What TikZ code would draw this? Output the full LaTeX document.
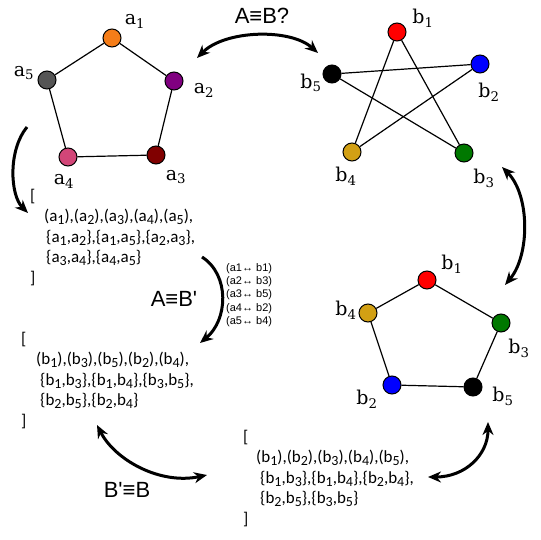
\documentclass[tikz,border=0pt]{standalone}
\usepackage{fontspec}
\setmainfont{Carlito}
\newfontfamily\lblfont{DejaVu Serif}
\newfontfamily\arialfont{Liberation Sans}
\usepackage{tikz}
\usetikzlibrary{arrows.meta}
\definecolor{aorange}{RGB}{245,125,25}
\definecolor{apurple}{RGB}{128,0,128}
\definecolor{adarkred}{RGB}{128,0,0}
\definecolor{apink}{RGB}{210,70,120}
\definecolor{agray}{RGB}{85,85,85}
\definecolor{bred}{RGB}{255,0,0}
\definecolor{bblue}{RGB}{0,0,255}
\definecolor{bgreen}{RGB}{0,120,0}
\definecolor{bgold}{RGB}{210,160,20}
\tikzset{
  vtx/.style={circle, draw=black, line width=1pt, minimum size=18pt, inner sep=0pt},
  edge/.style={line width=1.2pt, black},
  vlbl/.style={font=\lblfont\fontsize{19}{20}\selectfont, inner sep=0pt},
  setlist/.style={anchor=north west, align=left, inner sep=0pt,
                  font=\fontsize{17}{20.5}\selectfont},
  maplist/.style={anchor=north west, align=left, inner sep=0pt,
                  font=\arialfont\fontsize{11}{13.4}\selectfont},
  eqlbl/.style={font=\arialfont\fontsize{22}{24}\selectfont, inner sep=0pt},
  onearrow/.style={-{Stealth[length=13pt,width=11pt]}, line width=3pt},
  twoarrow/.style={{Stealth[length=13pt,width=11pt]}-{Stealth[length=13pt,width=11pt]}, line width=3pt},
}
\newcommand{\sub}[2]{#1\textsubscript{#2}}
\newcommand{\lsub}[2]{#1\raisebox{-0.35ex}{\fontsize{14}{14}\selectfont #2}}
\begin{document}
\begin{tikzpicture}[x=1pt,y=-1pt]
  \useasboundingbox (0,0) rectangle (540,540);

  % graph A
  \node[vtx, fill=aorange]  (a1) at (112,38)  {};
  \node[vtx, fill=apurple]  (a2) at (174,81)  {};
  \node[vtx, fill=adarkred] (a3) at (156,155) {};
  \node[vtx, fill=apink]    (a4) at (68,157)  {};
  \node[vtx, fill=agray]    (a5) at (47,80)   {};
  \draw[edge] (a1) -- (a2) -- (a3) -- (a4) -- (a5) -- (a1);
  \node[vlbl] (la1) at (135,21)  {\sub{a}{1}};
  \node[vlbl] (la2) at (204,90)  {\sub{a}{2}};
  \node[vlbl] (la3) at (176,177) {\sub{a}{3}};
  \node[vlbl] (la4) at (64,181)  {\sub{a}{4}};
  \node[vlbl] (la5) at (24,73)   {\sub{a}{5}};

  % graph B (star)
  \node[vtx, fill=bred]   (b1) at (397,32)  {};
  \node[vtx, fill=bblue]  (b2) at (480,64)  {};
  \node[vtx, fill=bgreen] (b3) at (464,153) {};
  \node[vtx, fill=bgold]  (b4) at (352,152) {};
  \node[vtx, fill=black]  (b5) at (332,74)  {};
  \draw[edge] (b1) -- (b4);
  \draw[edge] (b1) -- (b3);
  \draw[edge] (b5) -- (b2);
  \draw[edge] (b5) -- (b3);
  \draw[edge] (b2) -- (b4);
  \node[vlbl] (lb1) at (423,18)  {\sub{b}{1}};
  \node[vlbl] (lb2) at (489,92)  {\sub{b}{2}};
  \node[vlbl] (lb3) at (484,178) {\sub{b}{3}};
  \node[vlbl] (lb4) at (346,176) {\sub{b}{4}};
  \node[vlbl] (lb5) at (311,83)  {\sub{b}{5}};

  % graph B' (pentagon)
  \node[vtx, fill=bred]   (c1) at (427,280) {};
  \node[vtx, fill=bgreen] (c3) at (501,323) {};
  \node[vtx, fill=black]  (c5) at (473,387) {};
  \node[vtx, fill=bblue]  (c2) at (392,385) {};
  \node[vtx, fill=bgold]  (c4) at (368,313) {};
  \draw[edge] (c1) -- (c3) -- (c5) -- (c2) -- (c4) -- (c1);
  \node[vlbl] (lc1) at (452,264) {\sub{b}{1}};
  \node[vlbl] (lc3) at (519,348) {\sub{b}{3}};
  \node[vlbl] (lc5) at (503,396) {\sub{b}{5}};
  \node[vlbl] (lc2) at (367,399) {\sub{b}{2}};
  \node[vlbl] (lc4) at (346,310) {\sub{b}{4}};

  % edge lists
  \node[setlist] (setA) at (30,189) {[\\
    \hspace{14pt}(\lsub{a}{1}),(\lsub{a}{2}),(\lsub{a}{3}),(\lsub{a}{4}),(\lsub{a}{5}),\\
    \hspace{16pt}\{\lsub{a}{1},\lsub{a}{2}\},\{\lsub{a}{1},\lsub{a}{5}\},\{\lsub{a}{2},\lsub{a}{3}\},\\
    \hspace{16pt}\{\lsub{a}{3},\lsub{a}{4}\},\{\lsub{a}{4},\lsub{a}{5}\}\\
    ]};
  \node[setlist] (setBp) at (21,332) {[\\
    \hspace{15pt}(\lsub{b}{1}),(\lsub{b}{3}),(\lsub{b}{5}),(\lsub{b}{2}),(\lsub{b}{4}),\\
    \hspace{19pt}\{\lsub{b}{1},\lsub{b}{3}\},\{\lsub{b}{1},\lsub{b}{4}\},\{\lsub{b}{3},\lsub{b}{5}\},\\
    \hspace{19pt}\{\lsub{b}{2},\lsub{b}{5}\},\{\lsub{b}{2},\lsub{b}{4}\}\\
    ]};
  \node[setlist] (setB) at (243,430) {[\\
    \hspace{13pt}(\lsub{b}{1}),(\lsub{b}{2}),(\lsub{b}{3}),(\lsub{b}{4}),(\lsub{b}{5}),\\
    \hspace{17pt}\{\lsub{b}{1},\lsub{b}{3}\},\{\lsub{b}{1},\lsub{b}{4}\},\{\lsub{b}{2},\lsub{b}{4}\},\\
    \hspace{17pt}\{\lsub{b}{2},\lsub{b}{5}\},\{\lsub{b}{3},\lsub{b}{5}\}\\
    ]};
  \node[maplist] (perm) at (226,263) {(a1↔ b1)\\(a2↔ b3)\\(a3↔ b5)\\(a4↔ b2)\\(a5↔ b4)};

  % labels of the arrows
  \node[eqlbl] (q1) at (262,16)  {A≡B?};
  \node[eqlbl] (q2) at (174,299) {A≡B'};
  \node[eqlbl] (q3) at (127,490) {B'≡B};

  % arrows
  \coordinate (p1) at (197,58);
  \coordinate (p2) at (318,53);
  \draw[twoarrow] (p1) .. controls (225,30) and (290,28) .. (p2);
  \coordinate (p3) at (27,127);
  \coordinate (p4) at (28,213);
  \draw[onearrow] (p3) .. controls (8,150) and (10,195) .. (p4);
  \coordinate (p5) at (202,257);
  \coordinate (p6) at (200,343);
  \draw[onearrow] (p5) .. controls (230,275) and (228,320) .. (p6);
  \coordinate (p7) at (502,167);
  \coordinate (p8) at (505,285);
  \draw[twoarrow] (p7) .. controls (530,195) and (530,255) .. (p8);
  \coordinate (p9) at (97,425);
  \coordinate (p10) at (207,475);
  \draw[twoarrow] (p9) .. controls (115,460) and (160,485) .. (p10);
  \coordinate (p11) at (428,477);
  \coordinate (p12) at (488,422);
  \draw[twoarrow] (p11) .. controls (465,477) and (488,455) .. (p12);
\end{tikzpicture}
\end{document}
